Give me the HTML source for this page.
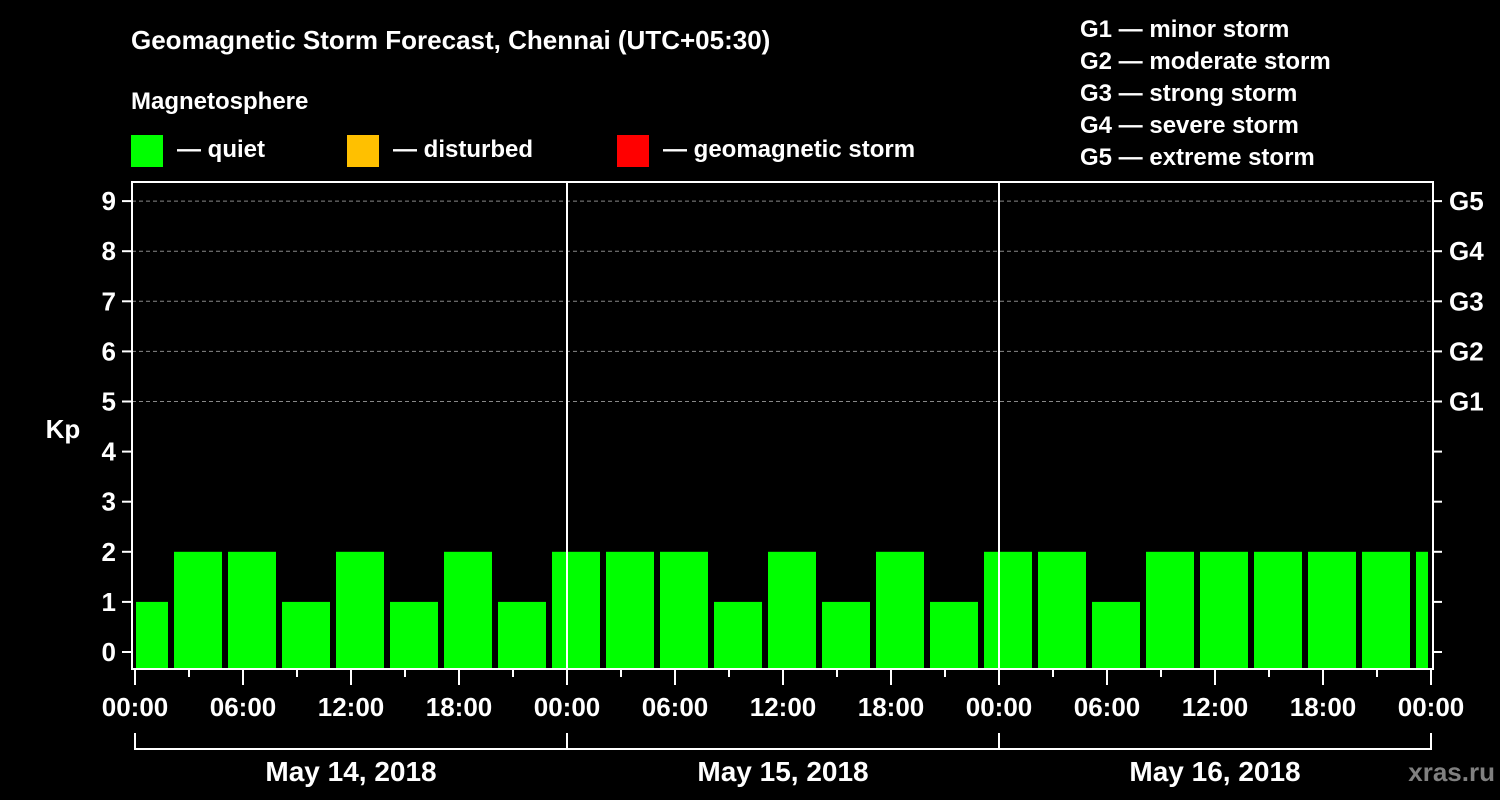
<!DOCTYPE html>
<html><head><meta charset="utf-8"><style>
html,body{margin:0;padding:0;background:#000;}
svg{display:block;font-family:"Liberation Sans",Arial,sans-serif;font-weight:bold;}
</style></head><body>
<svg id="chart" width="1500" height="800" viewBox="0 0 1500 800">
<rect x="0" y="0" width="1500" height="800" fill="#000"/>
<text x="131" y="49" fill="#fff" font-size="26">Geomagnetic Storm Forecast, Chennai (UTC+05:30)</text>
<text x="131" y="109" fill="#fff" font-size="24">Magnetosphere</text>
<g><rect x="131" y="135" width="32" height="32" fill="#00ff00"/><text x="177" y="157" fill="#fff" font-size="24">— quiet</text></g>
<g><rect x="347" y="135" width="32" height="32" fill="#ffc000"/><text x="393" y="157" fill="#fff" font-size="24">— disturbed</text></g>
<g><rect x="617" y="135" width="32" height="32" fill="#ff0000"/><text x="663" y="157" fill="#fff" font-size="24">— geomagnetic storm</text></g>
<g fill="#fff" font-size="24">
<text x="1080" y="37">G1 — minor storm</text>
<text x="1080" y="69">G2 — moderate storm</text>
<text x="1080" y="101">G3 — strong storm</text>
<text x="1080" y="133">G4 — severe storm</text>
<text x="1080" y="165">G5 — extreme storm</text>
</g>
<text x="63" y="438" fill="#fff" font-size="26" text-anchor="middle">Kp</text>
<text x="1495" y="781" fill="#808080" font-size="26" text-anchor="end">xras.ru</text>
<g id="grid"></g>
<g id="bars"></g>
<g id="axes"></g>
</svg>
<script>
const kpTicks = [0,1,2,3,4,5,6,7,8,9];
const gLabels = ["G1","G2","G3","G4","G5"];
const gLevels = [5,6,7,8,9];
const dayLabels = ["May 14, 2018","May 15, 2018","May 16, 2018"];
const hourLabels = ["00:00","06:00","12:00","18:00"];
const binStartHours = [-1,2,5,8,11,14,17,20,23,26,29,32,35,38,41,44,47,50,53,56,59,62,65,68,71];
const kpValues = [1,2,2,1,2,1,2,1,2,2,2,1,2,1,2,1,2,2,1,2,2,2,2,2,2];

const NS="http://www.w3.org/2000/svg";
const X0=135, PXH=18, TOTALH=72, YL=132, YR=1433, YT=182, YB=668;
const xs=h=>X0+h*PXH;
const ys=k=>652-k*50.1;
function mk(tag,attrs,parent){const e=document.createElementNS(NS,tag);for(const k in attrs)e.setAttribute(k,attrs[k]);parent.appendChild(e);return e;}
const grid=document.getElementById('grid'), bars=document.getElementById('bars'), axes=document.getElementById('axes');

gLevels.forEach((k,i)=>{
  const l=mk('line',{x1:YL,x2:YR,y1:ys(k),y2:ys(k),stroke:'#888','stroke-width':1,'stroke-dasharray':'4,3'},grid);
  
  
  const t=mk('text',{x:1449,y:ys(k)+9,fill:'#fff','font-size':26},axes);
  t.textContent=gLabels[i];
  
  
});

binStartHours.forEach((h,i)=>{
  const x0=Math.max(xs(h)+3,X0+1), x1=Math.min(xs(h+3)-3,xs(TOTALH)-3);
  const y=ys(kpValues[i]);
  const r=mk('rect',{x:x0,y:y,width:x1-x0,height:YB-y,fill:'#00ff00'},bars);
  
  
});

// frame
const fr=mk('path',{d:`M${YL} ${YT}H${YR}V${YB+1}H${YL}Z`,fill:'none',stroke:'#fff','stroke-width':2},axes);


[1,2].forEach(d=>{
  const l=mk('line',{x1:xs(d*24),x2:xs(d*24),y1:YT,y2:YB,stroke:'#fff','stroke-width':2},axes);
  
  
});

kpTicks.forEach(k=>{
  mk('line',{x1:YL-10,x2:YL,y1:ys(k),y2:ys(k),stroke:'#fff','stroke-width':2},axes);
  mk('line',{x1:YR,x2:YR+9,y1:ys(k),y2:ys(k),stroke:'#fff','stroke-width':2},axes);
  const t=mk('text',{x:116,y:ys(k)+9,fill:'#fff','font-size':26,'text-anchor':'end'},axes);
  t.textContent=String(k);
  
  
});

for(let h=0;h<=TOTALH;h+=3){
  const major=h%6===0;
  mk('line',{x1:xs(h),x2:xs(h),y1:YB,y2:YB+(major?17:9),stroke:'#fff','stroke-width':2},axes);
  if(major){
    const t=mk('text',{x:xs(h),y:716,fill:'#fff','font-size':26,'text-anchor':'middle'},axes);
    t.textContent=hourLabels[(h/6)%4];
    
    
  }
}

dayLabels.forEach((d,i)=>{
  const a=xs(i*24), b=xs((i+1)*24);
  mk('path',{d:`M${a} 733V749H${b}V733`,fill:'none',stroke:'#fff','stroke-width':2},axes);
  const t=mk('text',{x:(a+b)/2,y:781,fill:'#fff','font-size':28,'text-anchor':'middle'},axes);
  t.textContent=d;
  
  
});
</script>
</body></html>
